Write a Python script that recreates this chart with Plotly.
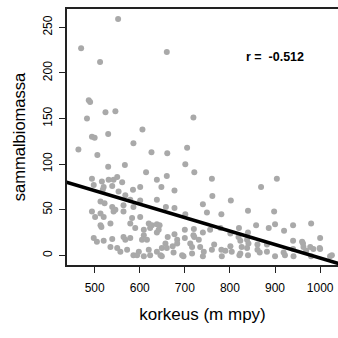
import plotly.graph_objects as go

# elevation (m) and moss biomass
korkeus = [
    552, 470, 512, 487, 490, 524, 546, 483, 606, 494, 500, 530, 464, 506, 586, 626,
    530, 567, 614, 494, 516, 531, 542, 550, 561, 498, 520, 539, 518, 553, 568, 585, 601, 513, 522, 579, 601,
    539, 586, 564, 546, 494, 513, 520, 501, 542, 564, 583, 601, 513, 515, 535, 579, 590, 620, 623, 609, 627,
    609, 498, 505, 520, 539, 568, 579, 605, 564, 616, 550, 557, 572, 586, 598, 609, 620, 535, 594, 623,
    660, 719, 661, 705, 701, 721, 638, 660, 648, 677, 760, 761, 638,
    740, 802, 658, 677, 749, 781, 701, 638, 644, 779,
    720, 700, 740, 638, 642, 677, 662, 683, 700, 721, 731, 719, 712, 657, 673, 683, 716, 734, 742, 716,
    697, 638, 649, 675, 760, 765, 781, 801, 804, 782, 740, 649, 756, 801, 819, 694, 790, 660, 646,
    820, 823, 826, 823, 838, 838, 840, 840, 841, 840, 858, 861, 861, 866, 869, 886, 882, 882, 898, 900,
    900, 904, 920, 919, 922, 940, 940, 940, 941, 960, 962, 963, 969, 980, 978, 980, 985, 999, 1000, 1000,
    1022, 1026, 821,
]
biomassa = [
    259, 227, 212, 170, 168, 157, 158, 150, 138, 130, 129, 133, 116, 110, 123, 113,
    97, 99, 91, 84, 81, 83, 83, 86, 80, 77, 75, 76, 72, 70, 66, 72, 75, 59, 57, 61, 60,
    53, 53, 55, 50, 48, 46, 42, 42, 48, 48, 41, 42, 33, 31, 35, 35, 30, 35, 30, 28, 33,
    22, 19, 15, 16, 18, 17, 19, 17, 20, 17, 8, 4, 6, 0, 4, -1, 6, 9, 0, 0,
    223, 151, 112, 118, 100, 91, 83, 87, 75, 71, 84, 65, 61,
    56, 60, 53, 52, 47, 45, 45, 34, 33, 30,
    29, 28, 25, 25, 28, 23, 20, 17, 19, 20, 17, 22, 13, 13, 10, 13, 9, 9, 4, 2,
    -1, 4, -1, 3, 6, 12, 6, 10, 4, -1, -1, 8, 28, 24, 20, 0, 5, 8, 0,
    30, 16, 9, 2, 17, 8, 49, 25, 13, 0, 33, 12, 6, 3, 75, 30, 12, 4, 48, 34,
    -1, 84, 27, 3, 0, 33, 16, 7, -1, 15, 13, 9, 5, 35, 9, -1, 7, 8, 19, 7,
    -1, 0, 0,
]

# regression line coefficients and correlation
intercept = 145.0
slope = -0.148
r_value = -0.512
line_x = [400, 1100]
line_y = [intercept + slope * v for v in line_x]

x_ticks = [500, 600, 700, 800, 900, 1000]
y_ticks = [0, 50, 100, 150, 200, 250]

FONT = "Liberation Sans, Arial, Helvetica, sans-serif"

fig = go.Figure()
fig.add_trace(go.Scatter(
    x=korkeus, y=biomassa, mode="markers",
    marker=dict(size=6, color="#A9A9A9", line=dict(width=0)),
    hoverinfo="skip", showlegend=False,
))
fig.add_trace(go.Scatter(
    x=line_x, y=line_y, mode="lines",
    line=dict(color="black", width=3.5),
    hoverinfo="skip", showlegend=False,
))
fig.add_annotation(
    x=900, y=217, xref="x", yref="y",
    text="<b>r = \u00a0" + f"{r_value:.3f}" + "</b>",
    showarrow=False, font=dict(family=FONT, size=12.5, color="black"),
)

fig.update_layout(
    width=338, height=338,
    margin=dict(l=67, r=0, t=9, b=73),
    paper_bgcolor="white", plot_bgcolor="white",
    font=dict(family=FONT, color="black"),
    xaxis=dict(
        range=[438.7, 1039.6], tickvals=x_ticks, ticks="outside", ticklen=6,
        tickwidth=1, tickcolor="#222", showline=True, linecolor="#222", linewidth=1.5,
        mirror=True, showgrid=False, zeroline=False, ticklabelstandoff=5,
        tickfont=dict(size=12, family=FONT),
        title=dict(text="korkeus (m mpy)", font=dict(size=17, family=FONT), standoff=14),
    ),
    yaxis=dict(
        range=[-10.6, 270.1], tickvals=y_ticks, ticks="outside", ticklen=6,
        tickwidth=1, tickcolor="#222", showline=True, linecolor="#222", linewidth=1.5,
        showgrid=False, zeroline=False, tickangle=-90, ticklabelstandoff=2,
        tickfont=dict(size=12, family=FONT),
        title=dict(text="sammalbiomassa", font=dict(size=16.5, family=FONT), standoff=12),
    ),
)

fig.write_html("out.html")
